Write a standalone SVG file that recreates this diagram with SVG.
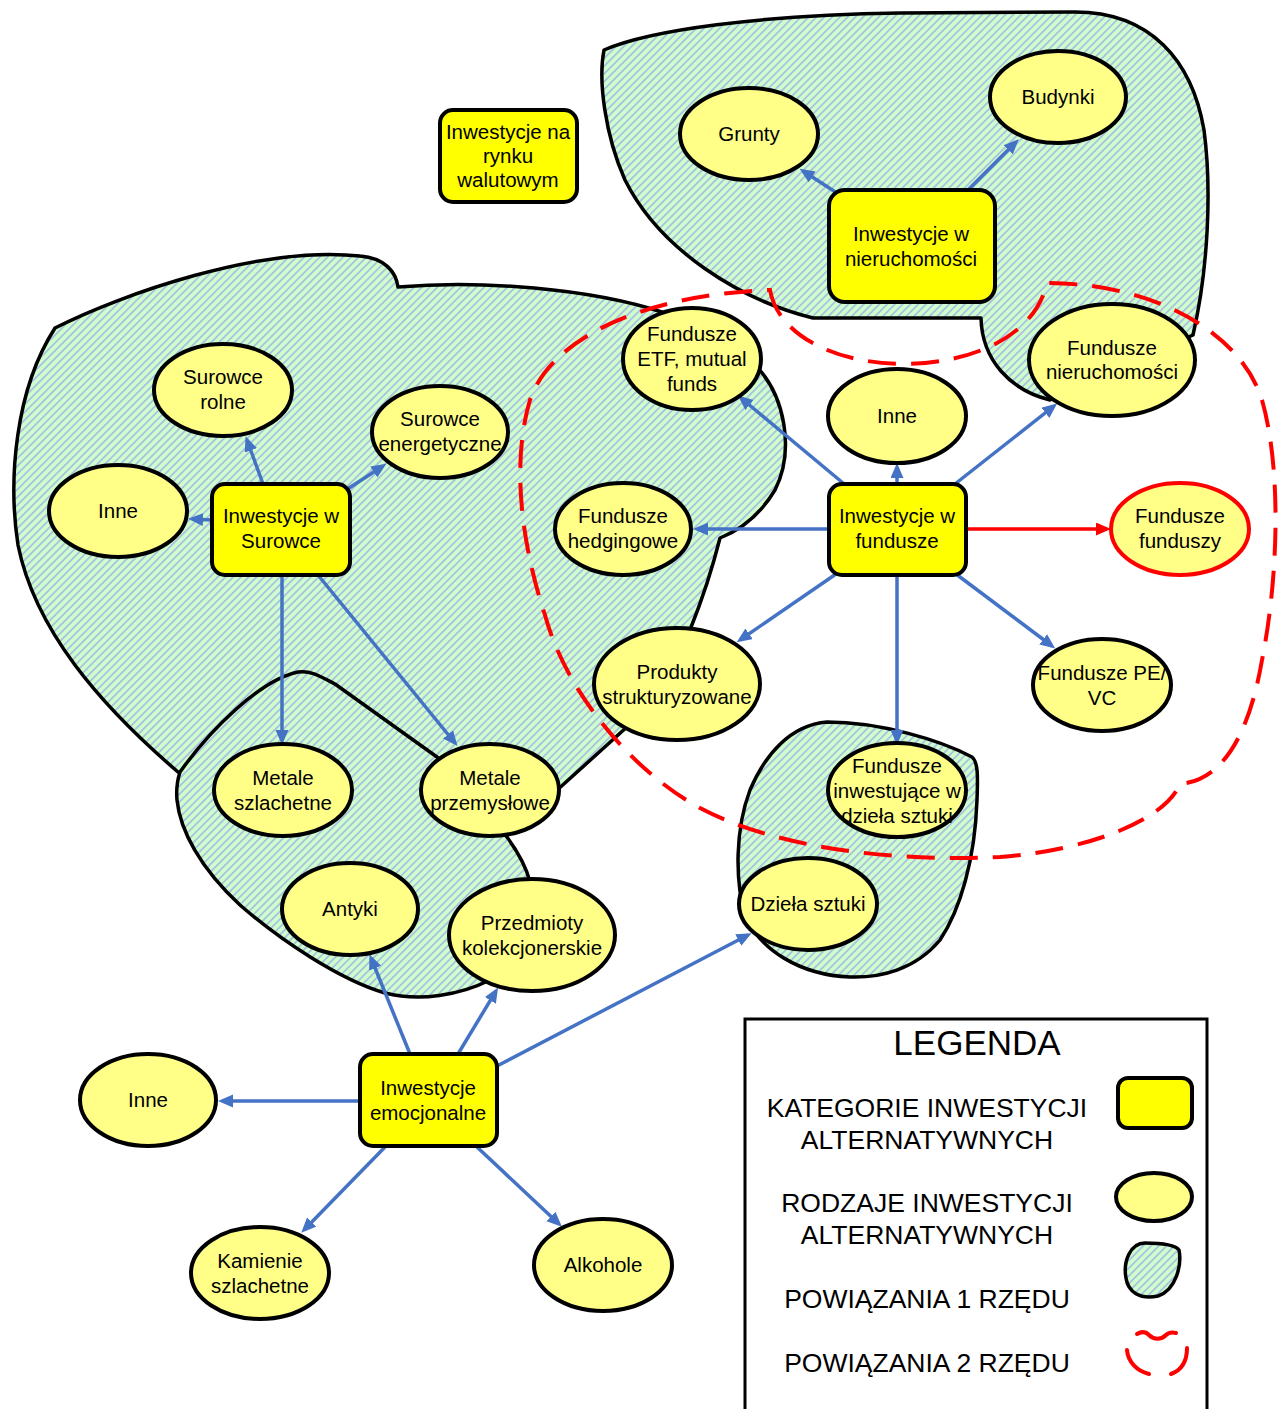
<svg xmlns="http://www.w3.org/2000/svg" width="1287" height="1409" viewBox="0 0 1287 1409">
<defs>
<pattern id="hatch" patternUnits="userSpaceOnUse" width="5.5" height="5.5" patternTransform="rotate(45)">
<rect width="5.5" height="5.5" fill="#ccffcc"/>
<rect width="1.8" height="5.5" fill="#aebfe0"/>
</pattern>
<marker id="ab" markerUnits="userSpaceOnUse" markerWidth="16" markerHeight="14" refX="11" refY="6.5" orient="auto">
<path d="M0,0 L15,6.5 L0,13 Z" fill="#4472c4"/>
</marker>
<marker id="ar" markerUnits="userSpaceOnUse" markerWidth="16" markerHeight="14" refX="11" refY="6.5" orient="auto">
<path d="M0,0 L15,6.5 L0,13 Z" fill="#ff0000"/>
</marker>
</defs>
<style>
.blob{fill:url(#hatch);stroke:#000;stroke-width:3.5;stroke-linejoin:round}
.cat{fill:#ffff00;stroke:#000;stroke-width:4}
.kind{fill:#ffff88;stroke:#000;stroke-width:4}
.kindr{fill:#ffff88;stroke:#ff0000;stroke-width:4}
.t{font-family:"Liberation Sans",Arial,sans-serif;font-size:20.5px;fill:#000;text-anchor:middle}
.lg{font-family:"Liberation Sans",Arial,sans-serif;font-size:26.5px;fill:#000;text-anchor:middle}
.c{fill:none;stroke:#4472c4;stroke-width:3.5;marker-end:url(#ab)}
.cr{fill:none;stroke:#ff0000;stroke-width:3.5;marker-end:url(#ar)}
.dash{fill:none;stroke:#ff0000;stroke-width:4;stroke-dasharray:28 15}
</style>
<rect width="1287" height="1409" fill="#fff"/>

<g id="regions">
<path class="blob" d="M604,50 C650,30 760,15 900,13 L1075,12 C1150,12 1192,60 1204,130 C1212,190 1208,270 1193,335 L1050,400 C1010,390 982,360 981,318 L813,318 C740,300 660,250 625,180 C605,135 598,80 604,50 Z"/>
<path class="blob" d="M55,328 C120,295 260,245 360,256 C385,258 396,272 398,287 C480,280 590,288 665,313 L755,365 C785,395 795,450 775,490 C760,515 740,530 720,538 C712,570 700,605 690,630 L628,726 L555,792 L470,800 L300,800 L178,772 C100,705 35,630 18,545 C8,480 15,390 55,328 Z"/>
<path class="blob" d="M180,772 C210,730 260,680 298,672 C310,670 320,676 335,684 L437,757 L507,837 C518,852 526,866 530,882 L490,980 C460,995 420,1002 385,993 C340,980 280,940 240,905 C200,868 180,830 177,800 C176,788 178,778 180,772 Z"/>
<path class="blob" d="M827,722 C880,722 940,740 972,757 C978,762 978,775 977,800 C975,860 960,910 940,940 C915,970 880,978 850,977 C800,975 760,950 745,915 C735,880 735,830 750,790 C765,755 790,725 827,722 Z"/>
<path class="dash" d="M770,290 C778,335 835,364 905,364 C975,363 1035,335 1047,283 C1150,283 1240,330 1262,400 C1282,470 1278,580 1262,660 C1250,730 1225,780 1180,784 C1165,820 1090,850 1000,857 C900,862 780,850 700,808 C630,770 565,690 545,615 C520,540 512,460 530,400 C550,340 640,295 770,290 Z"/>
</g>

<g id="connectors">
<line class="c" x1="840" y1="195" x2="803" y2="171"/>
<line class="c" x1="968" y1="190" x2="1016" y2="142"/>
<line class="c" x1="263" y1="484" x2="247" y2="440"/>
<line class="c" x1="346" y1="490" x2="383" y2="466"/>
<line class="c" x1="212" y1="520" x2="192" y2="519"/>
<line class="c" x1="282" y1="575" x2="282" y2="741"/>
<line class="c" x1="318" y1="575" x2="455" y2="743"/>
<line class="c" x1="843" y1="483" x2="741" y2="398"/>
<line class="c" x1="897" y1="484" x2="897" y2="467"/>
<line class="c" x1="955" y1="484" x2="1054" y2="406"/>
<line class="c" x1="829" y1="529" x2="697" y2="529"/>
<line class="cr" x1="966" y1="529" x2="1107" y2="529"/>
<line class="c" x1="836" y1="574" x2="740" y2="640"/>
<line class="c" x1="956" y1="574" x2="1052" y2="646"/>
<line class="c" x1="897" y1="575" x2="897" y2="741"/>
<line class="c" x1="410" y1="1054" x2="371" y2="958"/>
<line class="c" x1="458" y1="1054" x2="496" y2="991"/>
<line class="c" x1="497" y1="1066" x2="748" y2="935"/>
<line class="c" x1="360" y1="1101" x2="222" y2="1101"/>
<line class="c" x1="385" y1="1147" x2="304" y2="1230"/>
<line class="c" x1="477" y1="1147" x2="559" y2="1224"/>
</g>

<g id="n-walutowy"><rect class="cat" x="440" y="110" width="137" height="92" rx="13"/><text class="t" x="508" y="139">Inwestycje na</text><text class="t" x="508" y="163">rynku</text><text class="t" x="508" y="187">walutowym</text></g>
<g id="n-nieruchomosci"><rect class="cat" x="829" y="190" width="166" height="112" rx="16"/><text class="t" x="911" y="241">Inwestycje w</text><text class="t" x="911" y="266">nieruchomości</text></g>
<g id="n-grunty"><ellipse class="kind" cx="749" cy="134" rx="69" ry="46"/><text class="t" x="749" y="141">Grunty</text></g>
<g id="n-budynki"><ellipse class="kind" cx="1058" cy="97" rx="68" ry="46"/><text class="t" x="1058" y="104">Budynki</text></g>
<g id="n-fnier"><ellipse class="kind" cx="1112" cy="360" rx="83" ry="56"/><text class="t" x="1112" y="355">Fundusze</text><text class="t" x="1112" y="379">nieruchomości</text></g>
<g id="n-etf"><ellipse class="kind" cx="692" cy="359" rx="69" ry="51"/><text class="t" x="692" y="341">Fundusze</text><text class="t" x="692" y="366">ETF, mutual</text><text class="t" x="692" y="391">funds</text></g>
<g id="n-inne-f"><ellipse class="kind" cx="897" cy="416" rx="69" ry="47"/><text class="t" x="897" y="423">Inne</text></g>
<g id="n-rolne"><ellipse class="kind" cx="223" cy="390" rx="69" ry="46"/><text class="t" x="223" y="384">Surowce</text><text class="t" x="223" y="409">rolne</text></g>
<g id="n-energ"><ellipse class="kind" cx="440" cy="432" rx="68" ry="46"/><text class="t" x="440" y="426">Surowce</text><text class="t" x="440" y="451">energetyczne</text></g>
<g id="n-inne-s"><ellipse class="kind" cx="118" cy="511" rx="69" ry="46"/><text class="t" x="118" y="518">Inne</text></g>
<g id="n-surowce"><rect class="cat" x="212" y="484" width="138" height="91" rx="13"/><text class="t" x="281" y="523">Inwestycje w</text><text class="t" x="281" y="548">Surowce</text></g>
<g id="n-hedg"><ellipse class="kind" cx="623" cy="529" rx="68" ry="46"/><text class="t" x="623" y="523">Fundusze</text><text class="t" x="623" y="548">hedgingowe</text></g>
<g id="n-fundusze"><rect class="cat" x="829" y="484" width="137" height="91" rx="13"/><text class="t" x="897" y="523">Inwestycje w</text><text class="t" x="897" y="548">fundusze</text></g>
<g id="n-ff"><ellipse class="kindr" cx="1180" cy="529" rx="69" ry="46"/><text class="t" x="1180" y="523">Fundusze</text><text class="t" x="1180" y="548">funduszy</text></g>
<g id="n-produkty"><ellipse class="kind" cx="677" cy="684" rx="83" ry="56"/><text class="t" x="677" y="679">Produkty</text><text class="t" x="677" y="704">strukturyzowane</text></g>
<g id="n-pevc"><ellipse class="kind" cx="1102" cy="685" rx="69" ry="46"/><text class="t" x="1102" y="680">Fundusze PE/</text><text class="t" x="1102" y="705">VC</text></g>
<g id="n-mszl"><ellipse class="kind" cx="283" cy="790" rx="69" ry="46"/><text class="t" x="283" y="785">Metale</text><text class="t" x="283" y="810">szlachetne</text></g>
<g id="n-mprz"><ellipse class="kind" cx="490" cy="790" rx="69" ry="46"/><text class="t" x="490" y="785">Metale</text><text class="t" x="490" y="810">przemysłowe</text></g>
<g id="n-fds"><ellipse class="kind" cx="897" cy="790" rx="69" ry="47"/><text class="t" x="897" y="773">Fundusze</text><text class="t" x="897" y="798">inwestujące w</text><text class="t" x="897" y="823">dzieła sztuki</text></g>
<g id="n-dziela"><ellipse class="kind" cx="808" cy="904" rx="69" ry="46"/><text class="t" x="808" y="911">Dzieła sztuki</text></g>
<g id="n-antyki"><ellipse class="kind" cx="350" cy="909" rx="68" ry="46"/><text class="t" x="350" y="916">Antyki</text></g>
<g id="n-przedm"><ellipse class="kind" cx="532" cy="935" rx="83" ry="56"/><text class="t" x="532" y="930">Przedmioty</text><text class="t" x="532" y="955">kolekcjonerskie</text></g>
<g id="n-emoc"><rect class="cat" x="360" y="1054" width="137" height="92" rx="13"/><text class="t" x="428" y="1095">Inwestycje</text><text class="t" x="428" y="1120">emocjonalne</text></g>
<g id="n-inne-e"><ellipse class="kind" cx="148" cy="1100" rx="68" ry="46"/><text class="t" x="148" y="1107">Inne</text></g>
<g id="n-kamienie"><ellipse class="kind" cx="260" cy="1273" rx="69" ry="46"/><text class="t" x="260" y="1268">Kamienie</text><text class="t" x="260" y="1293">szlachetne</text></g>
<g id="n-alkohole"><ellipse class="kind" cx="603" cy="1265" rx="69" ry="46"/><text class="t" x="603" y="1272">Alkohole</text></g>

<g id="legend">
<rect x="745" y="1019" width="462" height="420" fill="#fff" stroke="#000" stroke-width="3"/>
<text x="977" y="1055" font-family="Liberation Sans, Arial, sans-serif" font-size="35" text-anchor="middle">LEGENDA</text>
<text class="lg" x="927" y="1117">KATEGORIE INWESTYCJI</text>
<text class="lg" x="927" y="1149">ALTERNATYWNYCH</text>
<text class="lg" x="927" y="1212">RODZAJE INWESTYCJI</text>
<text class="lg" x="927" y="1244">ALTERNATYWNYCH</text>
<text class="lg" x="927" y="1308">POWIĄZANIA 1 RZĘDU</text>
<text class="lg" x="927" y="1372">POWIĄZANIA 2 RZĘDU</text>
<rect class="cat" x="1118" y="1078" width="74" height="50" rx="10"/>
<ellipse class="kind" cx="1154" cy="1197" rx="38" ry="24"/>
<path class="blob" d="M1145,1243 C1160,1243 1175,1245 1179,1250 C1182,1265 1176,1290 1158,1296 C1140,1300 1128,1292 1126,1278 C1123,1262 1130,1243 1145,1243 Z"/>
<g fill="none" stroke="#ff0000" stroke-width="4" stroke-linecap="round">
<path d="M1137,1334 C1142,1331 1146,1332 1149,1335 C1154,1340 1161,1340 1166,1335 C1169,1332 1172,1332 1176,1333"/>
<path d="M1127,1350 C1128,1362 1137,1371 1149,1374"/>
<path d="M1171,1374 C1182,1370 1187,1362 1187,1348"/>
</g>
</g>
</svg>
